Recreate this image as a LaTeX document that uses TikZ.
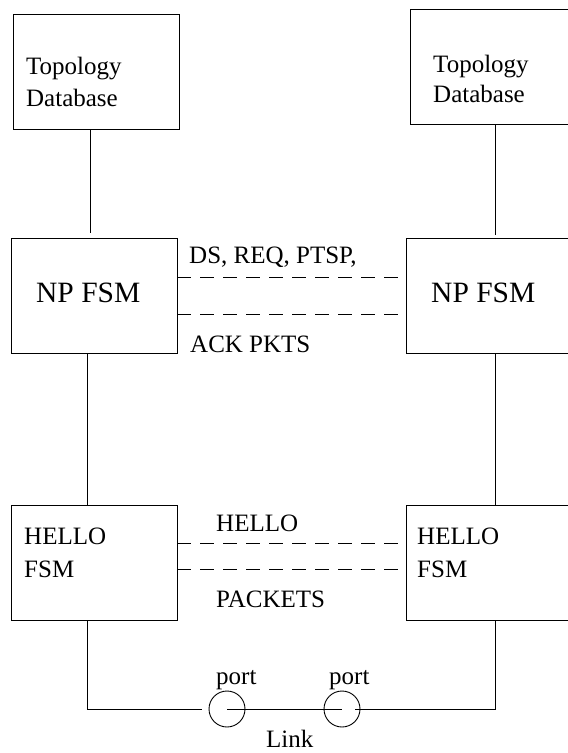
\documentclass[tikz,border=0pt]{standalone}
\usepackage{fontspec}
\setmainfont{Liberation Serif}
\begin{document}
\begin{tikzpicture}[x=1pt,y=-1pt,
  box/.style={draw,line width=0.9pt,rectangle,inner sep=0pt,outer sep=0pt},
  wire/.style={line width=0.9pt},
  dashline/.style={line width=0.9pt,dash pattern=on 14pt off 9pt},
  txt/.style={anchor=base west,inner sep=0pt,font=\fontsize{25}{30}\selectfont},
  bigtxt/.style={anchor=base west,inner sep=0pt,font=\fontsize{29.5}{34}\selectfont},
  port/.style={draw,circle,line width=0.9pt,minimum size=36pt,inner sep=0pt,outer sep=0pt}]
\useasboundingbox (0,0) rectangle (568,753);
% boxes
\node[box,minimum width=166pt,minimum height=115pt] (tdL) at (96,71.5) {};
\node[box,minimum width=158.3pt,minimum height=115pt] (tdR) at (489.85,66.5) {};
\node[box,minimum width=166pt,minimum height=115pt] (npL) at (94,295.5) {};
\node[box,minimum width=163pt,minimum height=115pt] (npR) at (487.5,295.5) {};
\node[box,minimum width=166pt,minimum height=115pt] (hL) at (94,562.5) {};
\node[box,minimum width=163pt,minimum height=115pt] (hR) at (487.5,562.5) {};
% box texts
\node[txt] (tdLa) at (26,74) {Topology};
\node[txt] (tdLb) at (26,106) {Database};
\node[txt] (tdRa) at (433,72) {Topology};
\node[txt] (tdRb) at (433,102) {Database};
\node[bigtxt] (npLt) at (36,302) {NP FSM};
\node[bigtxt] (npRt) at (431,302) {NP FSM};
\node[txt] (hLa) at (24,544) {HELLO};
\node[txt] (hLb) at (24,577) {FSM};
\node[txt] (hRa) at (417,544) {HELLO};
\node[txt] (hRb) at (417,577) {FSM};
% labels
\node[txt] (ds) at (189,263) {DS, REQ, PTSP,};
\node[txt] (ack) at (190,352) {ACK PKTS};
\node[txt] (hel) at (216,531) {HELLO};
\node[txt] (pkt) at (216,607) {PACKETS};
\node[txt] (pt1) at (216,684) {port};
\node[txt] (pt2) at (329,684) {port};
\node[txt] (lnk) at (266,747) {Link};
% helper coordinates
\coordinate (xa) at (90,0);
\coordinate (xb) at (87,0);
\coordinate (xr) at (495,0);
\coordinate (d1) at (0,277);
\coordinate (d2) at (0,314);
\coordinate (d3) at (0,543);
\coordinate (d4) at (0,569);
\coordinate (bl) at (87,709);
\coordinate (br) at (495,709);
% ports
\node[port] (p1) at (227,709) {};
\node[port] (p2) at (342,709) {};
% vertical connectors
\draw[wire,shorten >=5pt] (tdL.south -| xa) -- (npL.north -| xa);
\draw[wire,shorten >=3pt] (tdR.south -| xr) -- (npR.north -| xr);
\draw[wire] (npL.south -| xb) -- (hL.north -| xb);
\draw[wire] (npR.south -| xr) -- (hR.north -| xr);
% dashed message lines
\draw[dashline] (npL.east |- d1) -- (npR.west |- d1);
\draw[dashline] (npL.east |- d2) -- (npR.west |- d2);
\draw[dashline] (hL.east |- d3) -- (hR.west |- d3);
\draw[dashline] (hL.east |- d4) -- (hR.west |- d4);
% link
\draw[wire] (hL.south -| bl) -- (bl) -- ([xshift=-7pt]p1.west);
\draw[wire] (p1.center) -- (p2.center);
\draw[wire] ([xshift=-5pt]p2.east) -- (br) -- (hR.south -| br);
\end{tikzpicture}
\end{document}
